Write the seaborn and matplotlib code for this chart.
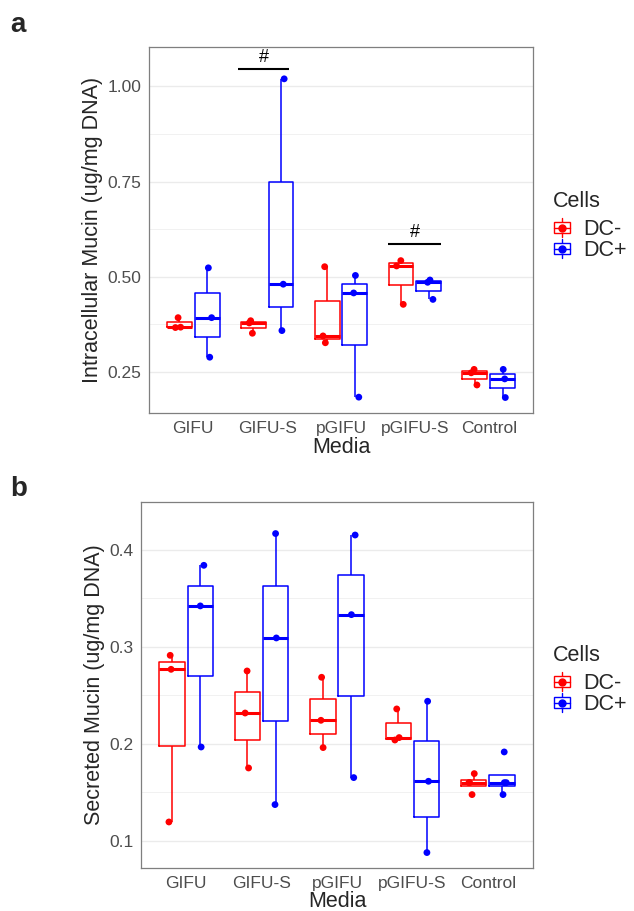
import numpy as np
import pandas as pd
import matplotlib
matplotlib.use('Agg')
import matplotlib.pyplot as plt
import seaborn as sns
from matplotlib.legend_handler import HandlerBase
from matplotlib.lines import Line2D
from matplotlib.patches import Rectangle

# 数据
media = ['GIFU', 'GIFU-S', 'pGIFU', 'pGIFU-S', 'Control']
cells = ['DC-', 'DC+']
cell_colors = ['#FF0000', '#0000FF']

# a: Intracellular Mucin
intra_dc_minus = [[0.366, 0.367, 0.392], [0.351, 0.378, 0.384], [0.326, 0.344, 0.526],
                  [0.427, 0.528, 0.542], [0.215, 0.247, 0.256]]
intra_dc_plus = [[0.288, 0.392, 0.523], [0.358, 0.480, 1.020], [0.183, 0.457, 0.503],
                 [0.440, 0.485, 0.491], [0.182, 0.231, 0.256]]

# b: Secreted Mucin
sec_dc_minus = [[0.1195, 0.2767, 0.2911], [0.1751, 0.2317, 0.2750], [0.1961, 0.2242, 0.2685],
                [0.2039, 0.2064, 0.2359], [0.1477, 0.160, 0.160, 0.1693]]
sec_dc_plus = [[0.1967, 0.3420, 0.3838], [0.1374, 0.309, 0.4165], [0.1652, 0.333, 0.415],
               [0.088, 0.1614, 0.2438], [0.1477, 0.160, 0.160, 0.1916]]

# 显著性标记 (#)
sig_x0 = [0.6, 2.64]
sig_x1 = [1.3, 3.36]
sig_y = [1.046, 0.585]


def make_df(minus, plus):
    rows = []
    for cell, groups in zip(cells, [minus, plus]):
        for m, vals in zip(media, groups):
            for v in vals:
                rows.append((m, cell, v))
    return pd.DataFrame(rows, columns=['Media', 'Cells', 'value'])


class BoxKey(HandlerBase):
    """ggplot 风格的箱线图图例"""
    def create_artists(self, legend, orig_handle, xdescent, ydescent, width, height, fontsize, trans):
        c = orig_handle.get_color()
        x0, y0 = -xdescent, -ydescent
        cx = x0 + width / 2
        whisker = Line2D([cx, cx], [y0 - 0.05 * height, y0 + 1.05 * height], color=c, lw=1.0, transform=trans)
        box = Rectangle((x0 + 0.08 * width, y0 + 0.2 * height), 0.84 * width, 0.6 * height,
                        fc='white', ec=c, lw=1.0, transform=trans)
        med = Line2D([x0 + 0.08 * width, x0 + 0.92 * width], [y0 + 0.5 * height] * 2, color=c, lw=1.0, transform=trans)
        dot = Line2D([cx], [y0 + 0.5 * height], marker='o', ms=5, color=c, lw=0, transform=trans)
        return [whisker, box, med, dot]


sns.set_style('white')
plt.rcParams['font.family'] = ['Liberation Sans', 'DejaVu Sans']

fig = plt.figure(figsize=(6.34, 9.11), dpi=100)
ax_a = fig.add_axes([149 / 634, 1 - 413 / 911, 384 / 634, 366 / 911])
ax_b = fig.add_axes([141 / 634, 1 - 868 / 911, 392 / 634, 366 / 911])


def draw_panel(ax, df, ylabel, ylim, ticks, ticklabels, minor, xpad):
    sns.boxplot(data=df, x='Media', y='value', hue='Cells', order=media, hue_order=cells,
                palette=cell_colors, fill=False, width=0.75, gap=0.1, showfliers=False,
                showcaps=False, linewidth=1.1, medianprops={'linewidth': 2.2},
                legend=False, ax=ax)
    sns.stripplot(data=df, x='Media', y='value', hue='Cells', order=media, hue_order=cells,
                  palette=cell_colors, dodge=True, jitter=0.1, size=4.9, legend=False,
                  zorder=4, ax=ax)
    ax.set_xlim(-0.6, 4.6)
    ax.set_ylim(*ylim)
    ax.set_yticks(ticks)
    ax.set_yticklabels(ticklabels)
    ax.set_yticks(minor, minor=True)
    ax.yaxis.grid(True, which='major', color='#EBEBEB', lw=1.0, zorder=0)
    ax.yaxis.grid(True, which='minor', color='#EBEBEB', lw=0.5, zorder=0)
    ax.xaxis.grid(False)
    ax.set_axisbelow(True)
    for s in ax.spines.values():
        s.set_color('#7F7F7F')
        s.set_linewidth(0.9)
    ax.tick_params(axis='both', which='major', length=3.5, width=0.8, color='#333333',
                   labelcolor='#4D4D4D', labelsize=12.5, pad=2)
    ax.tick_params(axis='y', which='minor', length=0)
    ax.set_xlabel('Media', fontsize=15.5, labelpad=xpad)
    ax.set_ylabel(ylabel, fontsize=15.5, labelpad=3)


np.random.seed(7)
draw_panel(ax_a, make_df(intra_dc_minus, intra_dc_plus), 'Intracellular Mucin (ug/mg DNA)',
           (0.1413, 1.1037), [0.25, 0.5, 0.75, 1.0], ['0.25', '0.50', '0.75', '1.00'],
           [0.375, 0.625, 0.875], 1)
draw_panel(ax_b, make_df(sec_dc_minus, sec_dc_plus), 'Secreted Mucin (ug/mg DNA)',
           (0.0721, 0.449), [0.1, 0.2, 0.3, 0.4], ['0.1', '0.2', '0.3', '0.4'],
           [0.15, 0.25, 0.35], 0)

# 显著性标记
for x0, x1, y in zip(sig_x0, sig_x1, sig_y):
    ax_a.plot([x0, x1], [y, y], color='black', lw=1.5, solid_capstyle='butt')
    ax_a.text((x0 + x1) / 2, y + 0.008, '#', ha='center', va='bottom', fontsize=13, color='black')

# 图例
for ax, top in [(ax_a, 191), (ax_b, 645)]:
    handles = [Line2D([], [], color=c) for c in cell_colors]
    leg = ax.legend(handles=handles, labels=cells, title='Cells', handler_map={Line2D: BoxKey()},
                    loc='upper left', bbox_to_anchor=(553 / 634, 1 - top / 911),
                    bbox_transform=fig.transFigure, frameon=False, fontsize=15.5,
                    title_fontsize=15.5, handlelength=0.85, handleheight=0.85, handletextpad=0.55,
                    labelspacing=0.0, alignment='left', borderaxespad=0, borderpad=0)
    leg._legend_box.sep = 5

fig.text(10 / 634, 1 - 32 / 911, 'a', fontsize=20, fontweight='bold', va='baseline')
fig.text(10 / 634, 1 - 496 / 911, 'b', fontsize=20, fontweight='bold', va='baseline')

fig.savefig('out.png', dpi=100)
